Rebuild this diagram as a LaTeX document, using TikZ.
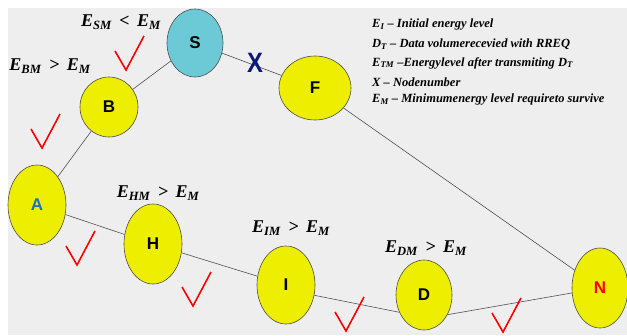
\documentclass[tikz,border=0pt]{standalone}
\usepackage{fontspec}
\setmainfont{Liberation Serif}
\setsansfont{Liberation Sans}
\usetikzlibrary{positioning,shapes.geometric}
\definecolor{bggray}{HTML}{EEEEEE}
\definecolor{nodeyellow}{HTML}{EEEE00}
\definecolor{srccyan}{HTML}{6CCAD6}
\definecolor{edgegray}{HTML}{505050}
\definecolor{xnavy}{HTML}{0C1878}
\definecolor{lblue}{HTML}{1E6FC8}

\begin{document}
\begin{tikzpicture}[
  x=1pt, y=-1pt,
  nd/.style={ellipse, draw=black!70, line width=0.6pt, fill=nodeyellow,
             inner sep=0pt, font=\sffamily\bfseries\fontsize{17}{17}\selectfont},
  src/.style={nd, fill=srccyan},
  cond/.style={inner sep=0pt, font=\bfseries\itshape\fontsize{18}{18}\selectfont},
  leg/.style={anchor=west, inner sep=0pt,
              font=\bfseries\itshape\fontsize{12.5}{12.5}\selectfont},
  ln/.style={edgegray, line width=0.6pt},
  tick/.style={red, line width=1.6pt},
]
% canvas
\fill[white] (0,0) rectangle (627,335);
\fill[bggray] (8,8) rectangle (627,335);
\useasboundingbox (0,0) rectangle (627,335);

% nodes
\node[nd, minimum width=58pt, minimum height=80pt, text=lblue] (A) at (37,205) {A};
\node[nd, minimum width=58pt, minimum height=60pt] (B) at (109,107) {B};
\node[src, minimum width=56pt, minimum height=68pt] (S) at (195,43) {S};
\node[nd, minimum width=72pt, minimum height=64pt] (F) at (315,88) {F};
\node[nd, minimum width=58pt, minimum height=80pt] (H) at (153,244) {H};
\node[nd, minimum width=58pt, minimum height=78pt] (I) at (286,285) {I};
\node[nd, minimum width=56pt, minimum height=70pt] (D) at (424,295) {D};
\node[nd, minimum width=56pt, minimum height=80pt, text=red] (N) at (600,288) {N};

% links
\foreach \a/\b in {A/B, B/S, S/F, F/N, A/H, H/I} {
  \draw[ln] (\a) -- (\b);
}
\draw[ln] (I.-20) -- (D.215);
\draw[ln] (D.-40) -- (N.190);

% broken link
\node[inner sep=0pt, text=xnavy, xscale=0.85,
      font=\sffamily\bfseries\fontsize{28}{28}\selectfont] (cut) at (255,63) {X};

% energy conditions
\node[cond] (cSM) at (121,22) {E\textsubscript{SM} \,<\, E\textsubscript{M}};
\node[cond] (cBM) at (50,66) {E\textsubscript{BM} \,>\, E\textsubscript{M}};
\node[cond, above=3pt of H, xshift=5pt] (cHM) {E\textsubscript{HM} \,>\, E\textsubscript{M}};
\node[cond, above=10pt of I, xshift=5pt] (cIM) {E\textsubscript{IM} \,>\, E\textsubscript{M}};
\node[cond, above=4pt of D, xshift=2pt] (cDM) {E\textsubscript{DM} \,>\, E\textsubscript{M}};

% ticks
\foreach \x/\y in {126/70, 42/148, 77/265, 193/306, 346/331, 503/332} {
  \draw[tick] (\x-11,\y-19) -- (\x,\y) -- (\x+18,\y-34);
}

% legend
\node[leg] (leg1) at (372,25) {E\textsubscript{I} -- Initial  energy level};
\node[leg] (leg2) at (372,44) {D\textsubscript{T} -- Data volumerecevied with RREQ};
\node[leg] (leg3) at (372,63) {E\textsubscript{TM} --Energylevel after transmiting D\textsubscript{T}};
\node[leg] (leg4) at (372,82) {X -- Nodenumber};
\node[leg] (leg5) at (372,100) {E\textsubscript{M} -- Minimumenergy level requireto survive};
\end{tikzpicture}
\end{document}
